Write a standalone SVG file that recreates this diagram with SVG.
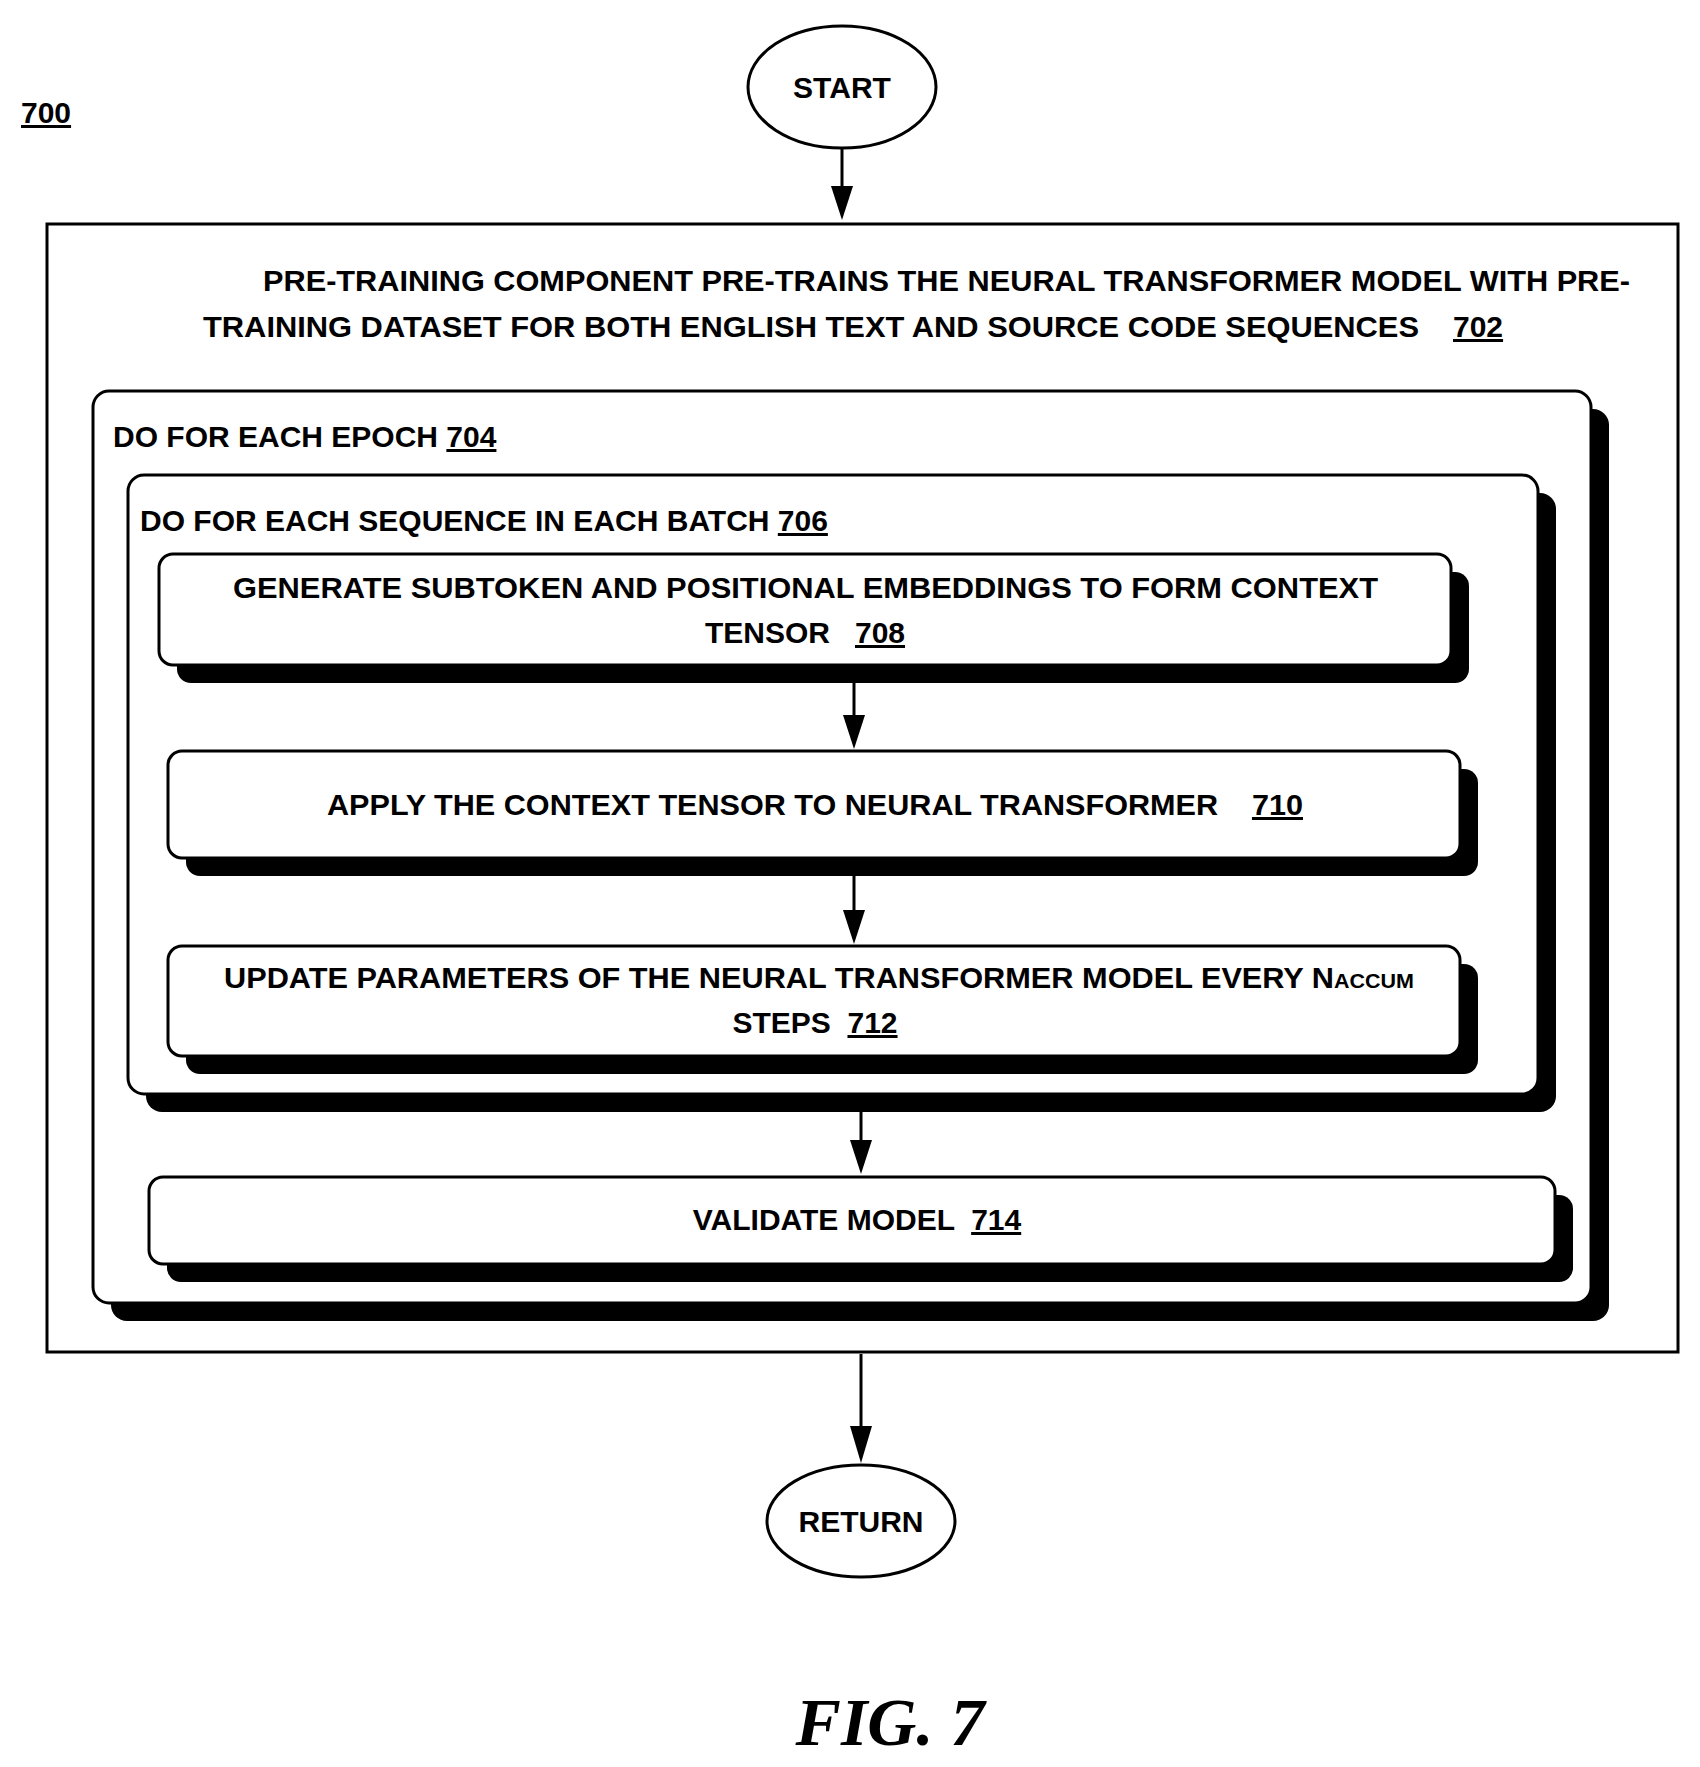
<svg xmlns="http://www.w3.org/2000/svg" width="1700" height="1767" viewBox="0 0 1700 1767">
<style>
text{font-family:"Liberation Sans",Arial,sans-serif;font-weight:bold;font-size:30px;fill:#000;white-space:pre}
.c{text-anchor:middle}
.u{text-decoration:underline}
.box{fill:#fff;stroke:#000;stroke-width:3}
.sh{fill:#000}
.ln{stroke:#000;stroke-width:3;fill:none}
.hd{fill:#000}
</style>
<text x="21" y="123" class="u">700</text>
<g id="start"><ellipse cx="842" cy="87" rx="94" ry="61" class="box"/><text x="842" y="98" class="c">START</text></g>
<g id="n702"><rect x="47" y="224" width="1631" height="1128" class="box"/>
<text x="263" y="291" textLength="1367" lengthAdjust="spacingAndGlyphs">PRE-TRAINING COMPONENT PRE-TRAINS THE NEURAL TRANSFORMER MODEL WITH PRE-</text>
<text x="203" y="337" textLength="1216" lengthAdjust="spacingAndGlyphs">TRAINING DATASET FOR BOTH ENGLISH TEXT AND SOURCE CODE SEQUENCES</text>
<text x="1453" y="337" class="u">702</text></g>
<g id="n704"><rect x="111" y="409" width="1498" height="912" rx="16" class="sh"/><rect x="93" y="391" width="1498" height="912" rx="16" class="box"/>
<text x="113" y="447">DO FOR EACH EPOCH <tspan class="u">704</tspan></text></g>
<g id="n706"><rect x="146" y="493" width="1410" height="619" rx="16" class="sh"/><rect x="128" y="475" width="1410" height="619" rx="16" class="box"/>
<text x="140" y="531">DO FOR EACH SEQUENCE IN EACH BATCH <tspan class="u">706</tspan></text></g>
<g id="n708"><rect x="177" y="572" width="1292" height="111" rx="14" class="sh"/><rect x="159" y="554" width="1292" height="111" rx="14" class="box"/>
<text x="233" y="598" textLength="1145" lengthAdjust="spacingAndGlyphs">GENERATE SUBTOKEN AND POSITIONAL EMBEDDINGS TO FORM CONTEXT</text>
<text x="805" y="643" class="c">TENSOR   <tspan class="u">708</tspan></text></g>
<g id="n710"><rect x="186" y="769" width="1292" height="107" rx="14" class="sh"/><rect x="168" y="751" width="1292" height="107" rx="14" class="box"/>
<text x="327" y="815" textLength="976" lengthAdjust="spacingAndGlyphs">APPLY THE CONTEXT TENSOR TO NEURAL TRANSFORMER    <tspan class="u">710</tspan></text></g>
<g id="n712"><rect x="186" y="964" width="1292" height="110" rx="14" class="sh"/><rect x="168" y="946" width="1292" height="110" rx="14" class="box"/>
<text x="224" y="988" textLength="1190" lengthAdjust="spacingAndGlyphs">UPDATE PARAMETERS OF THE NEURAL TRANSFORMER MODEL EVERY N<tspan font-size="21px">ACCUM</tspan></text>
<text x="815" y="1033" class="c">STEPS  <tspan class="u">712</tspan></text></g>
<g id="n714"><rect x="167" y="1195" width="1406" height="87" rx="14" class="sh"/><rect x="149" y="1177" width="1406" height="87" rx="14" class="box"/>
<text x="857" y="1230" class="c">VALIDATE MODEL  <tspan class="u">714</tspan></text></g>
<g id="ret"><ellipse cx="861" cy="1521" rx="94" ry="56" class="box"/><text x="861" y="1532" class="c">RETURN</text></g>
<g id="connectors">
<line x1="842" y1="149" x2="842" y2="188" class="ln"/><path d="M831,186H853L842,220z" class="hd"/>
<line x1="854" y1="683" x2="854" y2="717" class="ln"/><path d="M843,715H865L854,749z" class="hd"/>
<line x1="854" y1="876" x2="854" y2="912" class="ln"/><path d="M843,910H865L854,944z" class="hd"/>
<line x1="861" y1="1112" x2="861" y2="1142" class="ln"/><path d="M850,1140H872L861,1174z" class="hd"/>
<line x1="861" y1="1354" x2="861" y2="1428" class="ln"/><path d="M850,1426H872L861,1463z" class="hd"/>
</g>
<text x="890" y="1745" class="c" style="font-family:'Liberation Serif',serif;font-style:italic;font-size:68px">FIG. 7</text>
</svg>
